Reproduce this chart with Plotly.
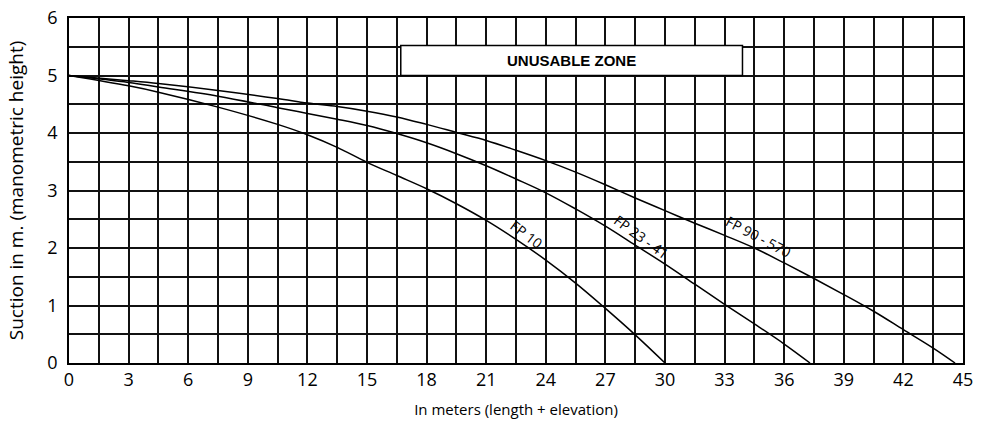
import plotly.graph_objects as go

# ---- data ----
fp10_x = [0, 3, 4.5, 7.5, 10.5, 12, 13.5, 15, 16.5, 18, 19.5, 21, 22.5, 24, 25.5, 27, 28.5, 30]
fp10_y = [5.0, 4.82, 4.71, 4.45, 4.15, 3.97, 3.75, 3.49, 3.26, 3.03, 2.77, 2.48, 2.15, 1.79, 1.39, 0.95, 0.49, 0.0]

fp23_x = [0, 3, 4.5, 7.5, 10.5, 12, 13.5, 15, 16.5, 18, 19.5, 21, 22.5, 24, 25.5, 27, 28.5, 30, 31.5, 33, 34.5, 36, 37.3]
fp23_y = [5.0, 4.88, 4.80, 4.64, 4.44, 4.34, 4.24, 4.13, 3.99, 3.83, 3.64, 3.43, 3.20, 2.96, 2.68, 2.38, 2.05, 1.72, 1.37, 1.02, 0.68, 0.33, 0.0]

fp90_x = [0, 3, 4.5, 7.5, 10.5, 12, 13.5, 15, 16.5, 18, 19.5, 21, 22.5, 24, 25.5, 27, 28.5, 30, 31.5, 33, 34.5, 36, 37.5, 39, 40.5, 42, 43.5, 44.6]
fp90_y = [5.0, 4.91, 4.86, 4.74, 4.6, 4.52, 4.46, 4.38, 4.28, 4.15, 4.01, 3.87, 3.70, 3.52, 3.32, 3.10, 2.87, 2.65, 2.43, 2.22, 2.0, 1.74, 1.47, 1.19, 0.90, 0.58, 0.26, 0.0]

series_names = ["FP 10", "FP 23 - 41", "FP 90 - 570"]
label_x = [23.05, 28.8, 34.7]
label_y = [2.24, 2.2, 2.2]
label_angle = [37, 36, 28]

x_grid = [i * 1.5 for i in range(31)]
x_ticktext = [str(int(v)) if v % 3 == 0 else "" for v in x_grid]
y_grid = [i * 0.5 for i in range(13)]
y_ticktext = [str(int(v)) if v % 1 == 0 else "" for v in y_grid]

zone_label = "UNUSABLE ZONE"
zone_x = [16.7, 33.9]
zone_y = [5.0, 5.52]

FONT = "Open Sans"

fig = go.Figure()
for xs, ys, name in zip([fp10_x, fp23_x, fp90_x], [fp10_y, fp23_y, fp90_y], series_names):
    fig.add_trace(go.Scatter(x=xs, y=ys, mode="lines", name=name,
                             line=dict(color="black", width=1.5, shape="spline", smoothing=1.0),
                             showlegend=False, hoverinfo="x+y+name"))

for name, lx, ly, ang in zip(series_names, label_x, label_y, label_angle):
    fig.add_annotation(x=lx, y=ly, text=name, showarrow=False, textangle=ang,
                       font=dict(family=FONT, size=14, color="black"))

fig.add_shape(type="rect", x0=zone_x[0], x1=zone_x[1], y0=zone_y[0], y1=zone_y[1],
              fillcolor="white", line=dict(color="black", width=1.5), layer="above")
fig.add_annotation(x=(zone_x[0] + zone_x[1]) / 2, y=(zone_y[0] + zone_y[1]) / 2,
                   text="<b>" + zone_label + "</b>", showarrow=False,
                   font=dict(family="Liberation Sans, Arial", size=15, color="black"))

fig.update_layout(
    width=986, height=423,
    margin=dict(l=69, r=23, t=18, b=60),
    paper_bgcolor="white", plot_bgcolor="white",
    font=dict(family=FONT, color="black"),
)
fig.update_xaxes(
    range=[0, 45], tickmode="array", tickvals=x_grid, ticktext=x_ticktext,
    showgrid=True, gridcolor="#111", gridwidth=1.5, zeroline=False,
    showline=True, linecolor="black", linewidth=1.5, mirror=True,
    ticks="", tickfont=dict(size=18, family=FONT),
    title=dict(text="In meters (length + elevation)", font=dict(size=15, family=FONT), standoff=14),
    automargin=False,
)
fig.update_yaxes(
    range=[0, 6], tickmode="array", tickvals=y_grid, ticktext=y_ticktext,
    showgrid=True, gridcolor="#111", gridwidth=1.5, zeroline=False,
    showline=True, linecolor="black", linewidth=1.5, mirror=True,
    ticks="", tickfont=dict(size=18, family=FONT), ticklabelstandoff=6,
    title=dict(text="Suction in m. (manometric height)", font=dict(size=19, family=FONT), standoff=19),
    automargin=False,
)

fig.write_html("out.html", config={"displayModeBar": False},
               post_script="document.body.style.margin='0';document.body.style.overflow='hidden';")
